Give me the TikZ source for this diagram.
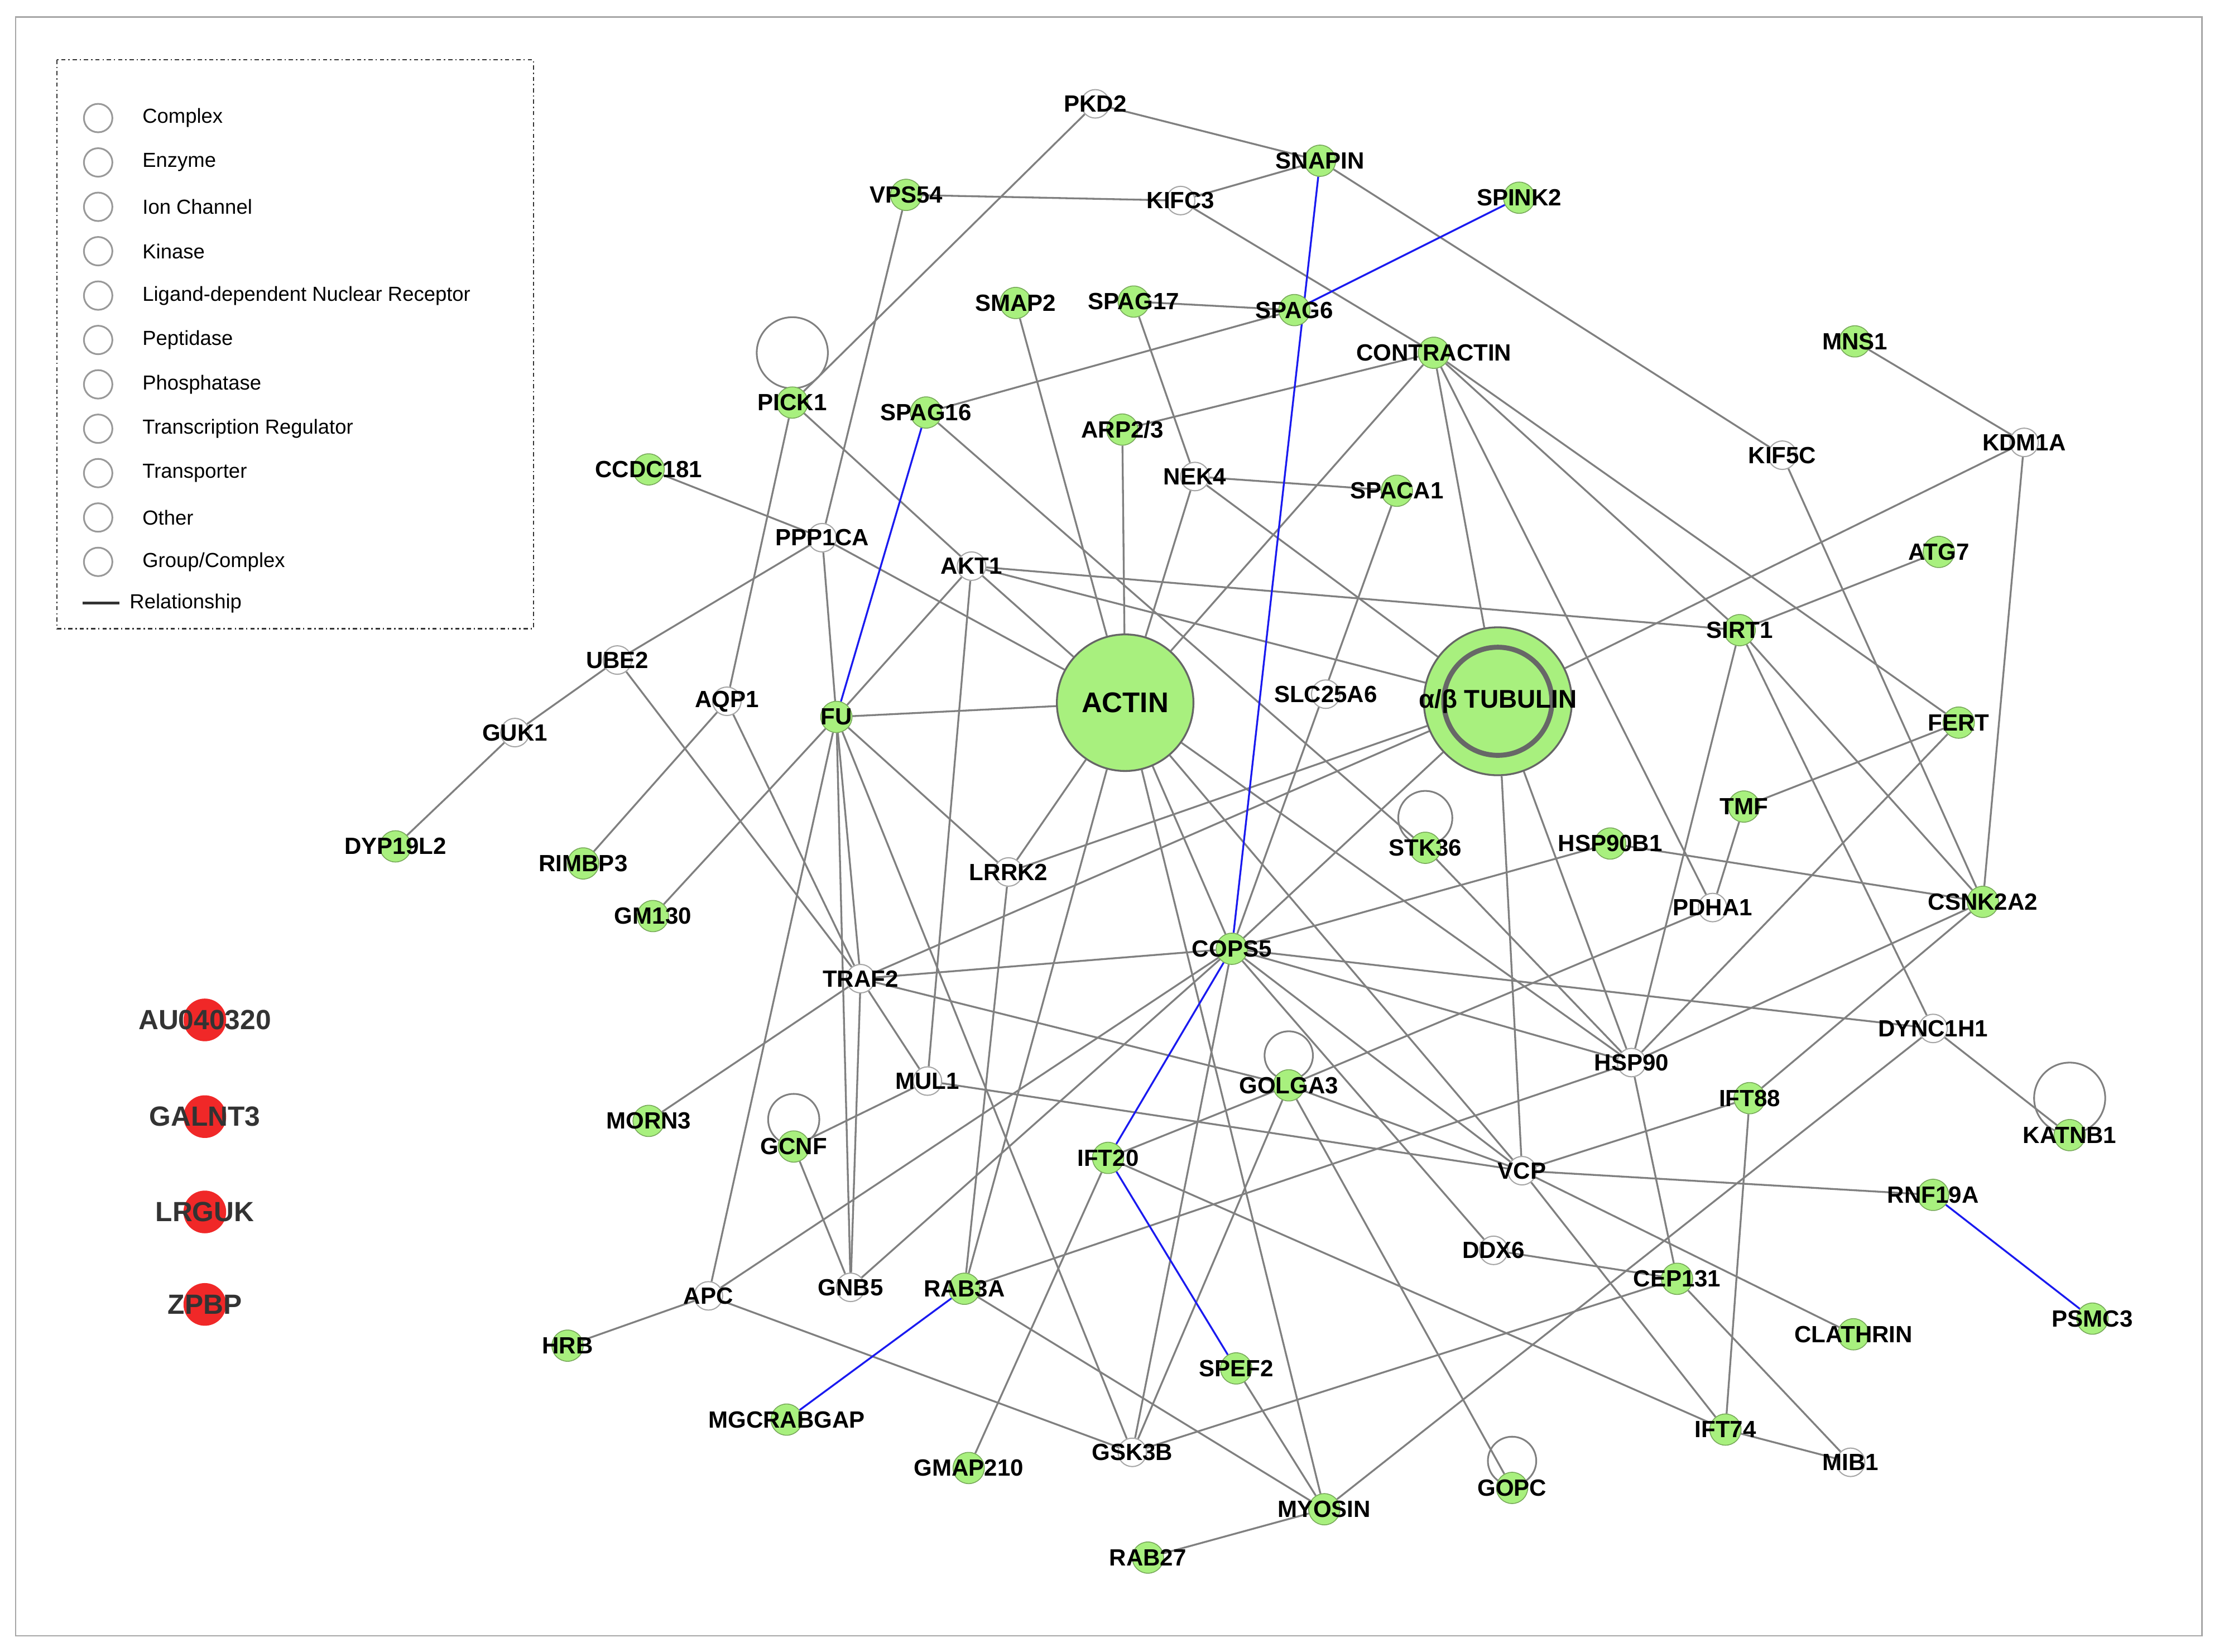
\documentclass[tikz,border=0pt]{standalone}
\usepackage{fontspec}
\setmainfont{Liberation Sans}
\usetikzlibrary{backgrounds}
\pgfdeclarelayer{bottom}
\pgfsetlayers{bottom,background,main}
\definecolor{lg}{HTML}{A8F07E}
\definecolor{eg}{HTML}{808080}
\definecolor{bl}{HTML}{1A1AF0}
\definecolor{rd}{HTML}{F02828}
\tikzset{x=1pt,y=-1pt,
 gn/.style={circle,fill=lg,draw=lg!70!black,line width=0.6pt,minimum size=22pt,inner sep=0pt},
 wn/.style={circle,fill=white,draw=eg!70,line width=0.8pt,minimum size=20pt,inner sep=0pt},
 rn/.style={circle,fill=rd,minimum size=30pt,inner sep=0pt},
 lab/.style={font=\bfseries\fontsize{16.5}{16.5}\selectfont,inner sep=0pt},
 e/.style={draw=eg,line width=1.3pt},
 b/.style={draw=bl,line width=1.3pt},
 loop/.style={draw=eg,line width=1.2pt},
 leg/.style={font=\fontsize{14.3}{14.3}\selectfont,anchor=west,inner sep=0pt},
 li/.style={draw=eg!80,line width=1.2pt,fill=white}}
\newcommand\GN[4]{\node[gn] (#1) at (#2,#3) {};}
\newcommand\WN[4]{\node[wn] (#1) at (#2,#3) {};}
\newcommand\LB[4]{\node[lab] (l#1) at (#2,#3) {#4};}
\begin{document}
\begin{tikzpicture}
\useasboundingbox (0,0) rectangle (1560,1161);
\begin{pgfonlayer}{bottom}
\fill[white] (0,0) rectangle (1560,1161);
\end{pgfonlayer}
\draw[gray!70,line width=1pt] (11,12) rectangle (1548,1150);
% legend
\draw[black!80,line width=1pt,dash dot] (40,42) rectangle (375,442);
\foreach \t [count=\i] in {Complex,Enzyme,Ion Channel,Kinase,Ligand-dependent Nuclear Receptor,Peptidase,Phosphatase,Transcription Regulator,Transporter,Other,Group/Complex}{
 \pgfmathsetmacro\yy{83+31.2*(\i-1)}
 \draw[li] (69,\yy) circle (10);
 \node[leg] (leg\i) at (100,\yy) {\t};}
\draw[eg!40!black,line width=2pt] (58,424) -- (84,424);
\node[leg] (legr) at (91,424) {Relationship};
% nodes
\def\nodelist{%
W/PKD2/770/73/PKD2, G/SNAPIN/928/113/SNAPIN, G/VPS54/637/137/VPS54, W/KIFC3/830/141/KIFC3,
G/SPINK2/1068/139/SPINK2, G/SMAP2/714/213/SMAP2, G/SPAG17/797/212/SPAG17, G/SPAG6/910/218/SPAG6,
G/CONTRACTIN/1008/248/CONTRACTIN, G/MNS1/1304/240/MNS1, G/PICK1/557/283/PICK1, G/SPAG16/651/290/SPAG16,
G/ARP/789/302/{ARP2/3}, W/KIF5C/1253/320/KIF5C, W/KDM1A/1423/311/KDM1A, G/CCDC181/456/330/CCDC181,
W/NEK4/840/335/NEK4, G/SPACA1/982/345/SPACA1, W/PPP1CA/578/378/PPP1CA, W/AKT1/683/398/AKT1,
G/ATG7/1363/388/ATG7, G/SIRT1/1223/443/SIRT1, W/UBE2/434/464/UBE2, W/AQP1/511/493/AQP1,
G/FU/588/504/FU, W/SLC25A6/932/488/SLC25A6, G/FERT/1377/508/FERT, W/GUK1/362/515/GUK1,
G/DYP19L2/278/595/DYP19L2, G/RIMBP3/410/607/RIMBP3, G/GM130/459/644/GM130, W/LRRK2/709/613/LRRK2,
G/STK36/1002/596/STK36, G/HSP90B1/1132/593/HSP90B1, G/TMF/1226/567/TMF, W/PDHA1/1204/638/PDHA1,
G/CSNK2A2/1394/634/CSNK2A2, G/COPS5/866/667/COPS5, W/TRAF2/605/688/TRAF2, W/DYNC1H1/1359/723/DYNC1H1,
W/MUL1/652/760/MUL1, W/HSP90/1147/747/HSP90, G/GOLGA3/906/763/GOLGA3, G/IFT88/1230/772/IFT88,
G/MORN3/456/788/MORN3, G/KATNB1/1455/798/KATNB1, G/GCNF/558/806/GCNF, G/IFT20/779/814/IFT20,
W/VCP/1070/823/VCP, G/RNF19A/1359/840/RNF19A, W/DDX6/1050/879/DDX6, G/CEP131/1179/899/CEP131,
W/APC/498/911/APC, W/GNB5/598/905/GNB5, G/RAB3A/678/906/RAB3A, G/CLATHRIN/1303/938/CLATHRIN,
G/PSMC3/1471/927/PSMC3, G/HRB/399/946/HRB, G/SPEF2/869/962/SPEF2, G/MGCRABGAP/553/998/MGCRABGAP,
G/IFT74/1213/1005/IFT74, W/MIB1/1301/1028/MIB1, G/GMAP210/681/1032/GMAP210, W/GSK3B/796/1021/GSK3B,
G/GOPC/1063/1046/GOPC, G/MYOSIN/931/1061/MYOSIN, G/RAB27/807/1095/RAB27}
% self loops (behind)
\foreach \x/\y/\r in {557/248/25, 1002/575/19, 906/742/17, 558/787/18, 1455/772/25, 1063/1027/17}
 \draw[loop] (\x,\y) circle (\r);
\foreach \t/\n/\x/\y/\s in \nodelist {\csname \t N\endcsname{\n}{\x}{\y}{\s}}
\node[circle,fill=lg,draw=eg!80!black,line width=1.3pt,minimum size=96pt,inner sep=0pt] (ACTIN) at (791,494) {};
\node[circle,fill=lg,draw=eg!80!black,line width=1.3pt,minimum size=104pt,inner sep=0pt] (TUB) at (1053,493) {};
\draw[eg!80!black,line width=3.5pt] (1053,493) circle (38);
\foreach \n/\y/\t in {AU/717/AU040320, GAL/785/GALNT3, LRG/852/LRGUK, ZP/917/ZPBP}{
 \node[rn] (\n) at (144,\y) {};
 \node[font=\bfseries\fontsize{19.5}{19.5}\selectfont,text=black!80] (t\n) at (144,\y) {\t};}
% edges
\begin{scope}[on background layer]
\foreach \a/\b in {PKD2/SNAPIN,PKD2/PICK1,VPS54/KIFC3,VPS54/PPP1CA,KIFC3/SNAPIN,KIFC3/CONTRACTIN,SNAPIN/KIF5C,
SMAP2/ACTIN,SPAG17/SPAG6,SPAG17/NEK4,SPAG6/SPAG16,CONTRACTIN/ARP,CONTRACTIN/ACTIN,CONTRACTIN/TUB,CONTRACTIN/PDHA1,
CONTRACTIN/SIRT1,CONTRACTIN/FERT,MNS1/KDM1A,KDM1A/TUB,KDM1A/CSNK2A2,KIF5C/CSNK2A2,ATG7/SIRT1,SIRT1/HSP90,
SIRT1/DYNC1H1,SIRT1/CSNK2A2,AKT1/SIRT1,FERT/TMF,FERT/HSP90,TMF/PDHA1,HSP90B1/CSNK2A2,HSP90B1/COPS5,PDHA1/GOLGA3,
CSNK2A2/HSP90,CSNK2A2/IFT88,DYNC1H1/KATNB1,COPS5/DYNC1H1,DYNC1H1/MYOSIN,AKT1/TUB,TUB/HSP90,TUB/VCP,TUB/TRAF2,
TUB/LRRK2,TUB/COPS5,NEK4/TUB,FU/ACTIN,AKT1/ACTIN,PPP1CA/ACTIN,ARP/ACTIN,NEK4/ACTIN,ACTIN/LRRK2,ACTIN/RAB3A,
ACTIN/MYOSIN,ACTIN/COPS5,ACTIN/VCP,ACTIN/HSP90,SPAG16/STK36,PICK1/AQP1,PICK1/AKT1,CCDC181/PPP1CA,PPP1CA/UBE2,
PPP1CA/FU,AKT1/FU,AKT1/MUL1,NEK4/SPACA1,SPACA1/COPS5,UBE2/GUK1,UBE2/TRAF2,GUK1/DYP19L2,AQP1/RIMBP3,AQP1/TRAF2,
FU/GM130,FU/TRAF2,FU/LRRK2,FU/APC,FU/GNB5,FU/GSK3B,LRRK2/RAB3A,TRAF2/COPS5,TRAF2/MORN3,TRAF2/GNB5,TRAF2/MUL1,
TRAF2/GOLGA3,COPS5/HSP90,COPS5/VCP,COPS5/APC,COPS5/GNB5,COPS5/GSK3B,COPS5/DDX6,MUL1/GCNF,MUL1/VCP,GCNF/GNB5,
GOLGA3/IFT20,GOLGA3/GSK3B,GOLGA3/GOPC,GOLGA3/VCP,HSP90/RAB3A,HSP90/CEP131,IFT88/VCP,IFT88/IFT74,VCP/RNF19A,
VCP/CLATHRIN,VCP/IFT74,CEP131/DDX6,CEP131/GSK3B,CEP131/MIB1,IFT20/GMAP210,IFT20/IFT74,STK36/HSP90,APC/HRB,
APC/GSK3B,RAB3A/MYOSIN,SPEF2/MYOSIN,MYOSIN/RAB27,IFT74/MIB1}
 \draw[e] (\a) -- (\b);
\foreach \a/\b in {SNAPIN/COPS5,SPINK2/SPAG6,SPAG16/FU,COPS5/IFT20,IFT20/SPEF2,RNF19A/PSMC3,RAB3A/MGCRABGAP}
 \draw[b] (\a) -- (\b);
\end{scope}
\foreach \t/\n/\x/\y/\s in \nodelist {\LB{\n}{\x}{\y}{\s}}
\node[font=\bfseries\fontsize{20}{20}\selectfont] (lACTIN) at (791,494) {ACTIN};
\node[font=\bfseries\fontsize{18}{18}\selectfont] (lTUB) at (1053,493) {α/β TUBULIN};
\end{tikzpicture}
\end{document}
